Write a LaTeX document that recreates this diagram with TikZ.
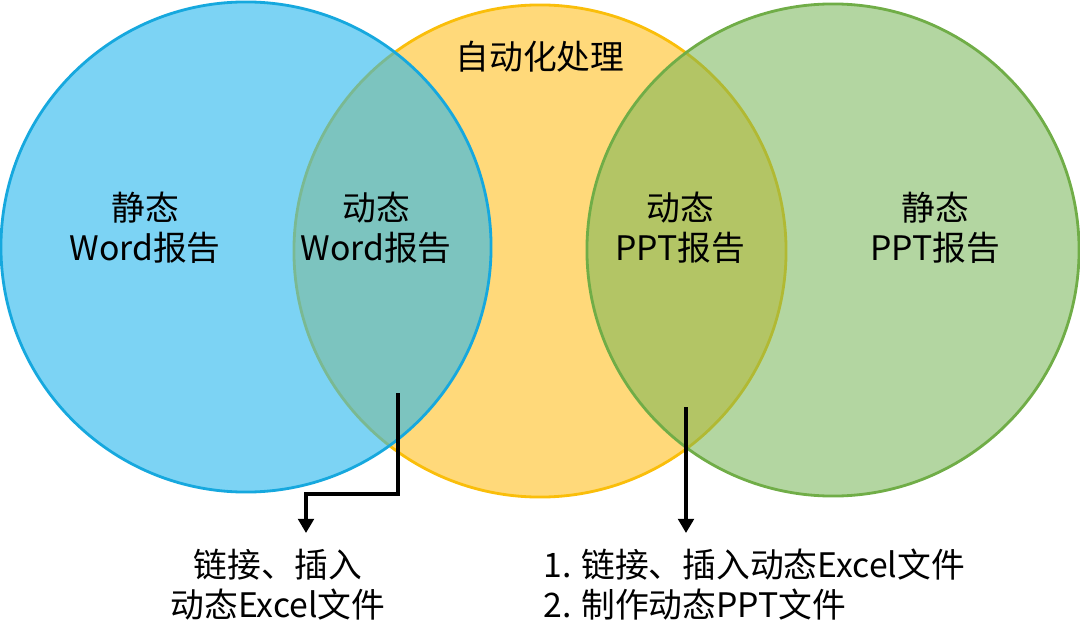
\documentclass[tikz,border=0pt]{standalone}
\usepackage{fontspec}
\setmainfont{Noto Sans CJK SC}
\usetikzlibrary{arrows.meta}
\definecolor{bluebase}{RGB}{38,182,238}
\definecolor{blueline}{RGB}{22,168,222}
\definecolor{yellowfill}{RGB}{255,217,122}
\definecolor{yellowline}{RGB}{250,190,10}
\definecolor{greenbase}{RGB}{118,182,85}
\definecolor{greenline}{RGB}{112,173,71}
\begin{document}
\begin{tikzpicture}[x=0.025cm,y=-0.025cm,
  lbl/.style={font=\fontsize{24pt}{28.5pt}\selectfont, align=center, inner sep=0pt, text=black},
  arr/.style={line width=2.8pt, draw=black, -{Triangle[length=10pt,width=11pt]}}]
\useasboundingbox (0,0) rectangle (1080,644);
\fill[white] (0,0) rectangle (1080,644);
% circles
\draw[line width=2pt, draw=yellowline, fill=yellowfill] (540,251) circle[radius=6.15cm];
\fill[bluebase, fill opacity=0.6] (246,247) circle[radius=6.125cm];
\draw[line width=2pt, blueline] (246,247) circle[radius=6.125cm];
\fill[greenbase, fill opacity=0.55] (833,250) circle[radius=6.15cm];
\draw[line width=2pt, greenline] (833,250) circle[radius=6.15cm];
% labels
\node[lbl] (auto) at (540,57) {自动化处理};
\node[lbl] (sw) at (145,228) {静态\\Word报告};
\node[lbl] (dw) at (376,228) {动态\\Word报告};
\node[lbl] (dp) at (680,228) {动态\\PPT报告};
\node[lbl] (sp) at (935,228) {静态\\PPT报告};
\node[lbl] (bl) at (278,585) {链接、插入\\动态Excel文件};
\node[lbl, align=left, anchor=west] (br) at (543,585) {1. 链接、插入动态Excel文件\\2. 制作动态PPT文件};
% arrows
\coordinate (a1s) at (398,393);
\coordinate (a1e) at (306,533);
\coordinate (a2s) at (686,407);
\coordinate (a2e) at (686,533);
\draw[arr] (a1s) -- ++(0,101) -| (a1e);
\draw[arr] (a2s) -- (a2e);
\end{tikzpicture}
\end{document}
